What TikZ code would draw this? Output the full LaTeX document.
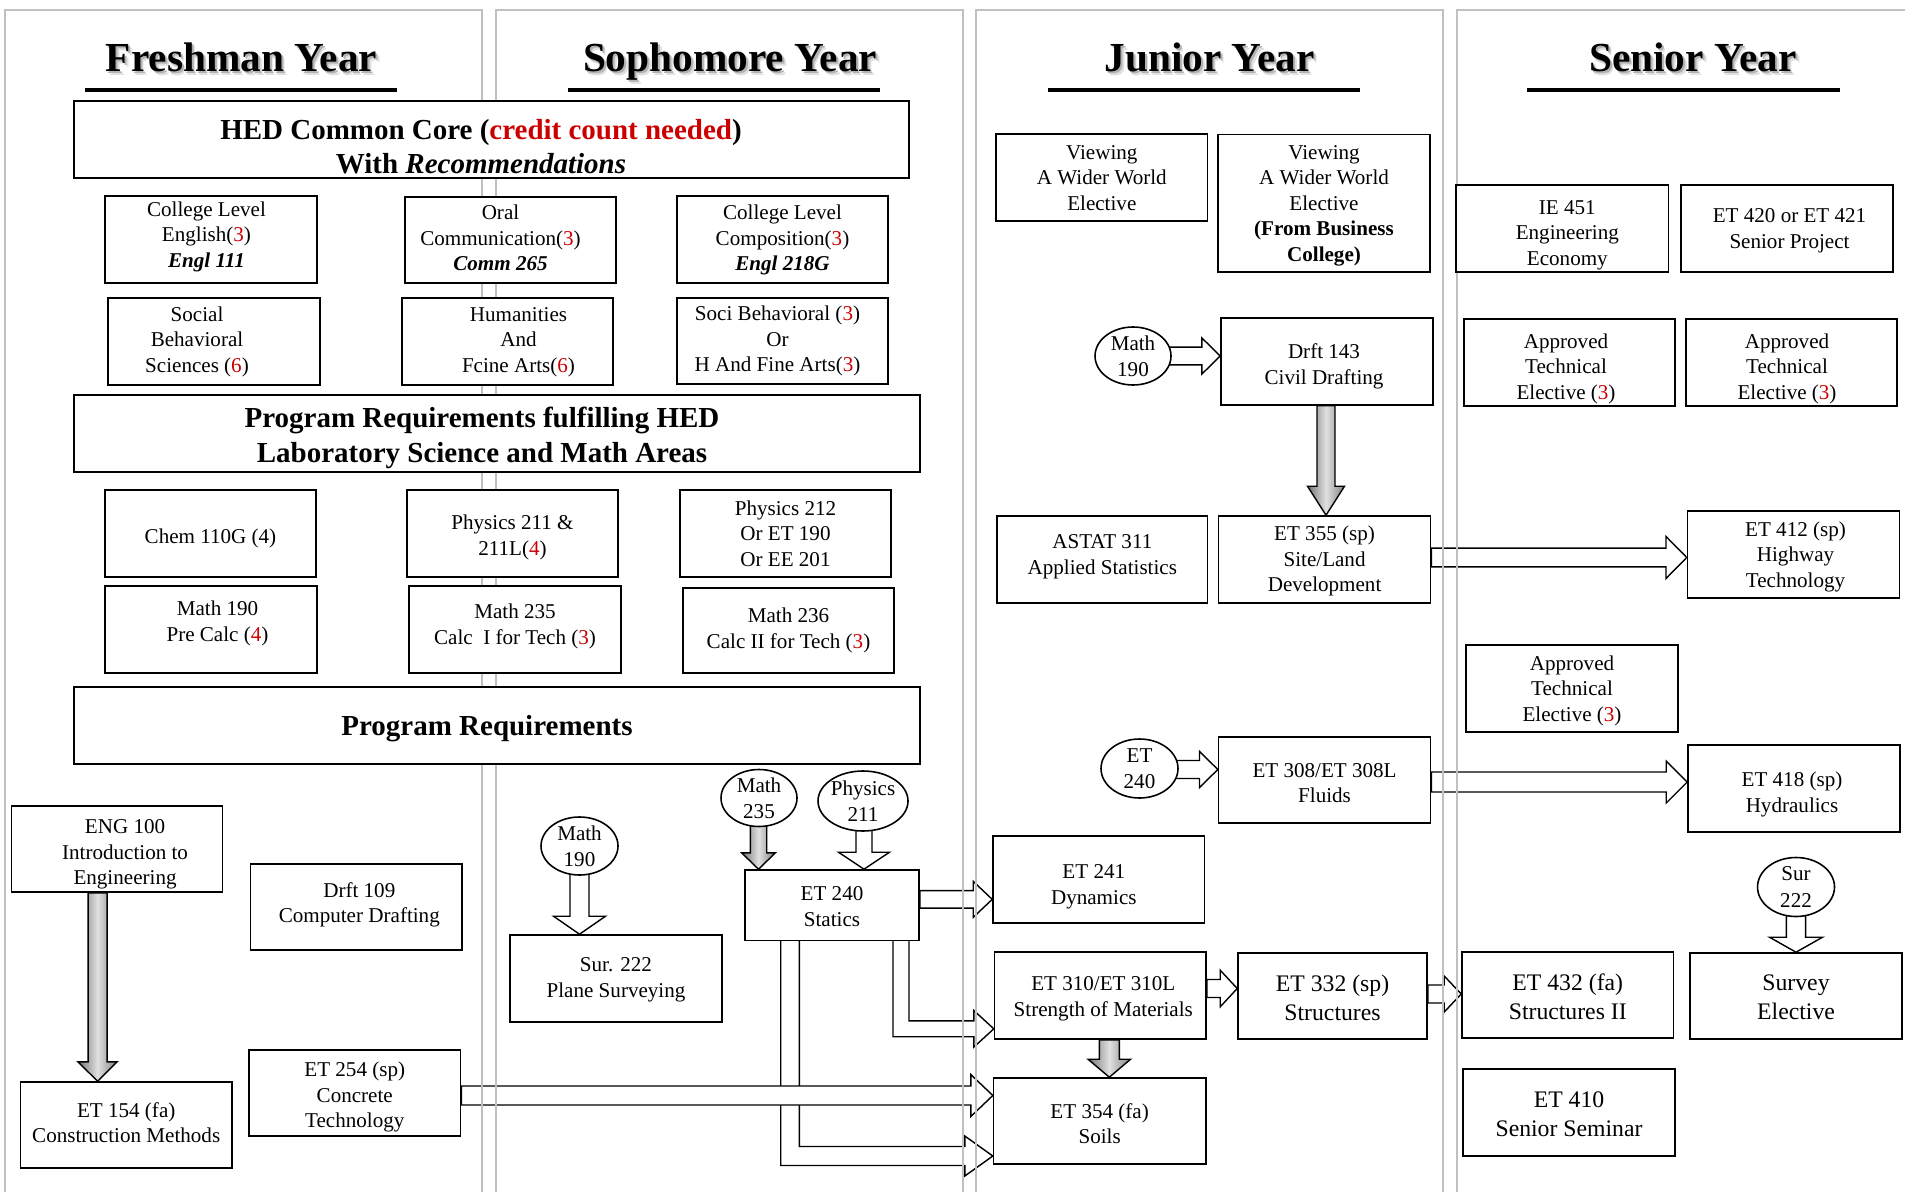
\documentclass[tikz,border=0pt]{standalone}
\usepackage{fontspec}
\setmainfont{Liberation Serif}
\usetikzlibrary{calc,shapes.geometric}
\definecolor{cred}{RGB}{204,0,0}
\definecolor{panelgray}{RGB}{192,192,192}
\newcommand\rn[1]{\textcolor{cred}{#1}}
\pgfdeclarelayer{arrowlayer}
\pgfdeclarelayer{panellayer}
\pgfsetlayers{arrowlayer,panellayer,main}
\pgfkeys{/bx/dx/.store in=\bxdx,/bx/dy/.store in=\bxdy,/bx/sty/.store in=\bxsty,/bx/big/.style={/bx/sty=big}}
% box from corner coordinates (px); options: dx, dy (text offset, px), big
\newcommand\bx[7][]{%
  \pgfqkeys{/bx}{dx=0,dy=0,sty=box,#1}%
  \pgfmathsetlengthmacro\bxk{2*(\bxdx)*0.02cm}%
  \pgfmathsetlengthmacro\bxr{-1*(\bxdy)*0.02cm}%
  \node[box,\bxsty,minimum width={(#5-#3)*0.02cm},minimum height={(#6-#4)*0.02cm}] (#2) at ({(#3+#5)/2},{(#4+#6)/2})
    {\raisebox{\bxr}[\height][\depth]{\kern\bxk\begin{tabular}{@{}c@{}}#7\end{tabular}}};}
% ellipse: name, cx, cy, w, h, text
\newcommand\elnode[7][]{%
  \node[oval,#1,minimum width={#5*0.02cm},minimum height={#6*0.02cm}] (#2) at (#3,#4) {#7};}
% horizontal block arrow: style, start, tip (same y), half shaft, half head, head length
\newcommand\harrow[6]{%
  \draw[#1] ($(#2)+(0,#4)$) -- ($(#3)+(-#6,#4)$) -- ($(#3)+(-#6,#5)$) -- (#3) -- ($(#3)+(-#6,-#5)$) -- ($(#3)+(-#6,-#4)$) -- ($(#2)+(0,-#4)$) -- cycle;}
% vertical block arrow (downwards): style, start, tip (same x), half shaft, half head, head length
\newcommand\varrow[6]{%
  \draw[#1] ($(#2)+(-#4,0)$) -- ($(#3)+(-#4,-#6)$) -- ($(#3)+(-#5,-#6)$) -- (#3) -- ($(#3)+(#5,-#6)$) -- ($(#3)+(#4,-#6)$) -- ($(#2)+(#4,0)$) -- cycle;}
% heading with soft drop shadow
\newcommand\heading[4]{%
  \node[head,text=black!12] (#1sa) at ($(#2,#3)+(3.5,3.5)$) {#4};
  \node[head,text=black!30] (#1sb) at ($(#2,#3)+(2,2)$) {#4};
  \node[head] (#1) at (#2,#3) {#4};}
\begin{document}
\begin{tikzpicture}[x=0.02cm,y=-0.02cm,
  box/.style={draw,line width=0.9pt,fill=white,inner sep=0pt,font=\fontsize{12}{14.5}\selectfont},
  big/.style={font=\fontsize{13.5}{16.5}\selectfont},
  bigbox/.style={draw,line width=1.2pt,fill=white,inner sep=0pt},
  bigtxt/.style={inner sep=0pt,font=\bfseries\fontsize{16.5}{20}\selectfont},
  oval/.style={ellipse,draw,line width=0.9pt,fill=white,inner sep=-2pt,align=center,font=\fontsize{12}{15}\selectfont},
  head/.style={inner sep=0pt,anchor=base,font=\bfseries\fontsize{23.5}{28}\selectfont},
  uline/.style={line width=2.3pt},
  panel/.style={draw=panelgray,line width=1.3pt},
  hollow/.style={draw=black,fill=white,line width=0.8pt,line join=miter},
  grayarr/.style={draw=black,line width=0.8pt,line join=miter,left color=black!55,right color=black!50,middle color=black!12}
]
\useasboundingbox (0,0) rectangle (1905,1192);

% ---------- panels ----------
\begin{pgfonlayer}{panellayer}
\draw[panel] (5,1192) -- (5,10) -- (482,10) -- (482,1192);
\draw[panel] (496,1192) -- (496,10) -- (963,10) -- (963,1192);
\draw[panel] (976,1192) -- (976,10) -- (1443,10) -- (1443,1192);
\draw[panel] (1457,1192) -- (1457,10) -- (1905,10);
\end{pgfonlayer}

% ---------- headings ----------
\heading{fresh}{241.5}{72}{Freshman Year}
\heading{soph}{730}{72}{Sophomore Year}
\heading{jun}{1209.5}{72}{Junior Year}
\heading{sen}{1693}{72}{Senior Year}
\draw[uline] (85,90) -- (397,90);
\draw[uline] (568,90) -- (880,90);
\draw[uline] (1048,90) -- (1360,90);
\draw[uline] (1527,90) -- (1840,90);

% ---------- big section boxes ----------
\node[bigbox,minimum width={835*0.02cm},minimum height={77*0.02cm}] (hedbox) at (491.5,139.5) {};
\node[bigtxt,anchor=base] (hedA) at (481,139.5) {HED Common Core (\rn{credit count needed})};
\node[bigtxt,anchor=base] (hedB) at (481,174) {With \textit{Recommendations}};
\node[bigbox,minimum width={846*0.02cm},minimum height={77*0.02cm}] (prqbox) at (497,433.5) {};
\node[bigtxt,anchor=base] (prqA) at (482,427) {Program Requirements fulfilling HED};
\node[bigtxt,anchor=base] (prqB) at (482,462) {Laboratory Science and Math Areas};
\node[bigbox,minimum width={846*0.02cm},minimum height={77*0.02cm}] (prbox) at (497,725.5) {};
\node[bigtxt,anchor=base] (prA) at (487,735) {Program Requirements};

% ---------- HED boxes ----------
\bx[dx=-4.5,dy=-3]{engl}{105}{196}{317}{283}{College Level\\English(\rn{3})\\\textbf{\textit{Engl 111}}}
\bx[dx=-10,dy=0]{oral}{405}{197}{616}{283}{Oral\\Communication(\rn{3})\\\textbf{\textit{Comm 265}}}
\bx[dy=0.5]{comp}{677}{196}{888}{283}{College Level\\Composition(\rn{3})\\\textbf{\textit{Engl 218G}}}
\bx[dx=-17]{socb}{108}{298}{320}{385}{Social\\Behavioral\\Sciences (\rn{6})}
\bx[dx=11]{hum}{402}{298}{613}{385}{Humanities\\And\\Fcine Arts(\rn{6})}
\bx[dx=-5]{soci}{677}{298}{888}{384}{Soci Behavioral (\rn{3})\\Or\\H And Fine Arts(\rn{3})}

% ---------- lab science / math ----------
\bx[dy=5]{chem}{105}{490}{316}{577}{Chem 110G (4)}
\bx[dy=4]{phya}{407}{490}{618}{577}{Physics 211 \&\\211L(\rn{4})}
\bx[dy=2]{phyb}{680}{490}{891}{577}{Physics 212\\Or ET 190\\Or EE 201}
\bx[dx=6.5,dy=-6]{mth190}{105}{586}{317}{673}{Math 190\\Pre Calc (\rn{4})}
\bx[dy=-3]{mth235}{409}{586}{621}{673}{Math 235\\Calc\ \ I for Tech (\rn{3})}
\bx{mth236}{683}{588}{894}{673}{Math 236\\Calc II for Tech (\rn{3})}

% ---------- freshman / sophomore program ----------
\bx[dx=8,dy=5]{eng100}{11.5}{806}{222.6}{892}{ENG 100\\Introduction to\\Engineering}
\bx[dx=3,dy=-2]{drft109}{250.6}{864}{462}{950}{Drft 109\\Computer Drafting}
\bx[dy=0]{et154}{20.4}{1082}{232}{1168}{ET 154 (fa)\\Construction Methods}
\bx[dy=4]{et254}{249}{1050}{460.5}{1136}{ET 254 (sp)\\Concrete\\Technology}
\elnode{e190s}{579.5}{846}{77}{58}{Math\\190}
\bx[dy=1]{sur222}{510}{935}{722}{1022}{Sur. 222\\Plane Surveying}
\elnode{e235}{759}{798}{76}{57}{Math\\235}
\elnode{ep211}{863}{801}{90}{60}{Physics\\211}
\bx[dy=3]{et240}{745}{870}{919}{940.7}{ET 240\\Statics}

% ---------- junior ----------
\bx[dy=2]{vwwa}{996}{134}{1207.6}{221}{Viewing\\A Wider World\\Elective}
\bx[dy=2]{vwwb}{1218}{134.7}{1430}{272}{Viewing\\A Wider World\\Elective\\\textbf{(From Business}\\\textbf{College)}}
\elnode{e190j}{1133}{356}{76}{58}{Math\\190}
\bx[dx=-3,dy=5]{drft143}{1221}{318}{1433}{405}{Drft 143\\Civil Drafting}
\bx[dy=-3]{astat}{997}{516}{1207.6}{603}{ASTAT 311\\Applied Statistics}
\bx[dy=1.5]{et355}{1218.6}{516}{1430.5}{603}{ET 355 (sp)\\Site/Land\\Development}
\elnode{e240j}{1139.5}{768.5}{77}{59}{ET\\240}
\bx[dy=5]{et308}{1218.6}{737}{1430.5}{823}{ET 308/ET 308L\\Fluids}
\bx[dx=-5,dy=7]{et241}{993}{836}{1204.6}{923}{ET 241\\Dynamics}
\bx[dx=3,dy=3]{et310}{994.6}{952}{1206}{1039}{ET 310/ET 310L\\Strength of Materials}
\bx[dy=5]{et354}{993.6}{1078}{1205.7}{1164}{ET 354 (fa)\\Soils}
\bx[big,dy=4.5]{et332}{1238}{953}{1427}{1039}{ET 332 (sp)\\Structures}

% ---------- senior ----------
\bx[dx=5,dy=6]{ie451}{1456}{185}{1668.6}{272}{IE 451\\Engineering\\Economy}
\bx[dx=2.5,dy=2]{et420}{1681}{185}{1893}{272}{ET 420 or ET 421\\Senior Project}
\bx[dx=-3.5,dy=6]{atea}{1464}{319}{1675}{406}{Approved\\Technical\\Elective (\rn{3})}
\bx[dx=-4.5,dy=6]{ateb}{1686}{319}{1897}{406}{Approved\\Technical\\Elective (\rn{3})}
\bx[dx=2,dy=2]{et412}{1687.5}{511}{1899.5}{598}{ET 412 (sp)\\Highway\\Technology}
\bx[dy=2]{atec}{1466}{645}{1678}{732}{Approved\\Technical\\Elective (\rn{3})}
\bx[dx=-2,dy=6]{et418}{1688}{745}{1900}{832}{ET 418 (sp)\\Hydraulics}
\elnode{es222}{1796}{887}{77}{59}{Sur\\222}
\bx[big,dy=4]{et432}{1462}{952}{1673.5}{1038}{ET 432 (fa)\\Structures II}
\bx[big,dy=3]{survey}{1690}{953}{1902}{1039}{Survey\\Elective}
\bx[big,dy=3.5]{et410}{1463}{1069}{1675}{1156}{ET 410\\Senior Seminar}

% ---------- arrows ----------
\begin{pgfonlayer}{arrowlayer}
% Math 190 -> Drft 143
\coordinate (a1s) at ($(e190j.east)+(-3,0)$);
\coordinate (a1t) at (drft143.west |- a1s);
\harrow{hollow}{a1s}{a1t}{8.8}{18}{18.3}
% ET 240 -> ET 308
\coordinate (a2s) at ($(e240j.east)+(-3,1)$);
\coordinate (a2t) at (et308.west |- a2s);
\harrow{hollow}{a2s}{a2t}{9}{18}{18.3}
% ET 355 -> ET 412
\coordinate (a3s) at ($(et355.east)+(0,-2)$);
\coordinate (a3t) at (et412.west |- a3s);
\harrow{hollow}{a3s}{a3t}{9.3}{21}{20.7}
% ET 308 -> ET 418
\coordinate (a4s) at ($(et308.east)+(0,2)$);
\coordinate (a4t) at (et418.west |- a4s);
\harrow{hollow}{a4s}{a4t}{10}{21}{21}
% ET 240 -> ET 241
\coordinate (a5s) at ($(et240.east)+(0,-6)$);
\coordinate (a5t) at (et241.west |- a5s);
\harrow{hollow}{a5s}{a5t}{8.7}{18}{19}
% ET 310 -> ET 332
\coordinate (a6s) at ($(et310.east)+(0,-7)$);
\coordinate (a6t) at (et332.west |- a6s);
\harrow{hollow}{a6s}{a6t}{9}{18.3}{17}
% ET 332 -> ET 432
\coordinate (a7s) at ($(et332.east)+(0,-2)$);
\coordinate (a7t) at (et432.west |- a7s);
\harrow{hollow}{a7s}{a7t}{9}{18}{17}
% vertical hollow
\coordinate (a9s) at ($(e190s.south)+(0,-3)$);
\coordinate (a9t) at (a9s |- sur222.north);
\varrow{hollow}{a9s}{a9t}{9.5}{26}{18}
\coordinate (a10s) at ($(ep211.south)+(1,-3)$);
\coordinate (a10t) at (a10s |- et240.north);
\varrow{hollow}{a10s}{a10t}{8}{25.5}{17}
\coordinate (a11s) at ($(es222.south)+(0,-3)$);
\coordinate (a11t) at (a11s |- survey.north);
\varrow{hollow}{a11s}{a11t}{9.6}{26.5}{15}
% gray arrows
\coordinate (a12s) at ($(eng100.south)+(-19.5,0)$);
\coordinate (a12t) at (a12s |- et154.north);
\varrow{grayarr}{a12s}{a12t}{9.5}{19.5}{19.3}
\coordinate (a13s) at ($(drft143.south)+(-1,0)$);
\coordinate (a13t) at (a13s |- et355.north);
\varrow{grayarr}{a13s}{a13t}{9}{18.5}{29}
\coordinate (a14s) at ($(e235.south)+(-0.5,-3)$);
\coordinate (a14t) at (a14s |- et240.north);
\varrow{grayarr}{a14s}{a14t}{8.2}{16.8}{16.3}
\coordinate (a15s) at ($(et310.south)+(9,0)$);
\coordinate (a15t) at (a15s |- et354.north);
\varrow{grayarr}{a15s}{a15t}{10}{21.3}{18}
% ET 240 -> ET 354 (elbow, lower)
\coordinate (b2t) at ($(et354.west)+(0,35)$);
\coordinate (b2o) at ($(et240.south)+(-51.3,-2)$);
\coordinate (b2i) at ($(et240.south)+(-32.7,-2)$);
\coordinate (b2lo) at ($(b2t)+(-28,9.5)$);
\coordinate (b2up) at ($(b2t)+(-28,-9.5)$);
\coordinate (b2hb) at ($(b2t)+(-28,20)$);
\coordinate (b2ht) at ($(b2t)+(-28,-20)$);
\draw[hollow] (b2o) -- (b2o |- b2lo) -- (b2lo) -- (b2hb) -- (b2t) -- (b2ht) -- (b2up) -- (b2i |- b2up) -- (b2i) -- cycle;
% ET 240 -> ET 310 (elbow)
\coordinate (b1t) at ($(et310.west)+(0,33.3)$);
\coordinate (b1o) at ($(et240.south)+(61,-2)$);
\coordinate (b1i) at ($(et240.south)+(77,-2)$);
\coordinate (b1lo) at ($(b1t)+(-20,7.9)$);
\coordinate (b1up) at ($(b1t)+(-20,-7.9)$);
\coordinate (b1hb) at ($(b1t)+(-20,18.3)$);
\coordinate (b1ht) at ($(b1t)+(-20,-18.3)$);
\draw[hollow] (b1o) -- (b1o |- b1lo) -- (b1lo) -- (b1hb) -- (b1t) -- (b1ht) -- (b1up) -- (b1i |- b1up) -- (b1i) -- cycle;
% ET 254 -> ET 354 (on top of the elbow)
\coordinate (a8s) at ($(et254.east)+(0,2.5)$);
\coordinate (a8t) at (et354.west |- a8s);
\harrow{hollow}{a8s}{a8t}{9.5}{21}{22}
\end{pgfonlayer}
\end{tikzpicture}
\end{document}
